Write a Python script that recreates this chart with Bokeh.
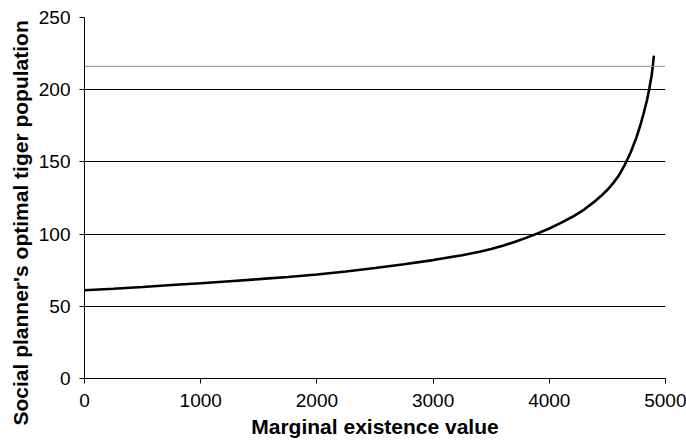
from bokeh.plotting import figure
from bokeh.models import Range1d, FixedTicker, Span, Title
from bokeh.embed import file_html
from bokeh.resources import INLINE

# Data
x_values = [0, 250, 500, 750, 1000, 1250, 1500, 1750, 2000, 2250, 2500, 2750,
            3000, 3250, 3400, 3500, 3600, 3700, 3800, 3900, 4000, 4100, 4200,
            4300, 4400, 4450, 4500, 4550, 4600, 4650, 4700, 4750, 4780, 4810,
            4840, 4860, 4880, 4890, 4900]
y_values = [61.1, 62.2, 63.4, 64.7, 66.0, 67.4, 68.8, 70.3, 72.0, 74.1, 76.5, 79.1,
            82.0, 85.4, 87.8, 89.7, 92.0, 94.5, 97.4, 100.5, 103.9, 107.8, 112.0,
            117.0, 123.2, 126.7, 130.7, 135.3, 140.8, 148.0, 156.5, 167.0, 174.5, 183.0,
            192.5, 200.5, 209.5, 215.8, 223.6]
reference_level = 216.2
x_ticks = [0, 1000, 2000, 3000, 4000, 5000]
y_ticks = [0, 50, 100, 150, 200, 250]
x_title = "Marginal existence value"
y_title = "Social planner's optimal tiger population"

FONT = "Liberation Sans"

p = figure(width=686, height=440, output_backend="svg", toolbar_location=None,
           x_range=Range1d(0, 5000), y_range=Range1d(0, 250),
           min_border_top=17, min_border_right=21, min_border_left=84,
           min_border_bottom=62)
p.outline_line_color = None
p.background_fill_color = "white"
p.border_fill_color = "white"

p.xaxis.ticker = FixedTicker(ticks=x_ticks)
p.yaxis.ticker = FixedTicker(ticks=y_ticks)
for ax in (p.xaxis[0], p.yaxis[0]):
    ax.axis_line_color = "black"
    ax.axis_line_width = 1
    ax.major_tick_line_color = "black"
    ax.major_tick_out = 5
    ax.major_tick_in = 0
    ax.minor_tick_line_color = None
    ax.major_label_text_font = FONT
    ax.major_label_text_font_size = "19px"
    ax.major_label_text_color = "black"
    ax.axis_label_text_font = FONT
    ax.axis_label_text_font_size = "21px"
    ax.axis_label_text_font_style = "bold"
    ax.axis_label_text_color = "black"

p.xaxis.axis_label = x_title
p.xaxis.major_label_standoff = 10
p.xaxis.axis_label_standoff = 5
p.yaxis.major_label_standoff = 9

p.add_layout(Title(text=y_title, align="left", offset=-47,
                   text_font=FONT, text_font_size="21px",
                   text_font_style="bold", text_color="black",
                   standoff=8), "left")

p.xgrid.grid_line_color = None
p.ygrid.grid_line_color = "black"
p.ygrid.grid_line_width = 1.2

p.add_layout(Span(location=reference_level, dimension="width",
                  line_color="#8c8c8c", line_width=1))

p.line(x_values, y_values, line_color="black", line_width=2.6)

open("out.html", "w").write(file_html(p, INLINE))
